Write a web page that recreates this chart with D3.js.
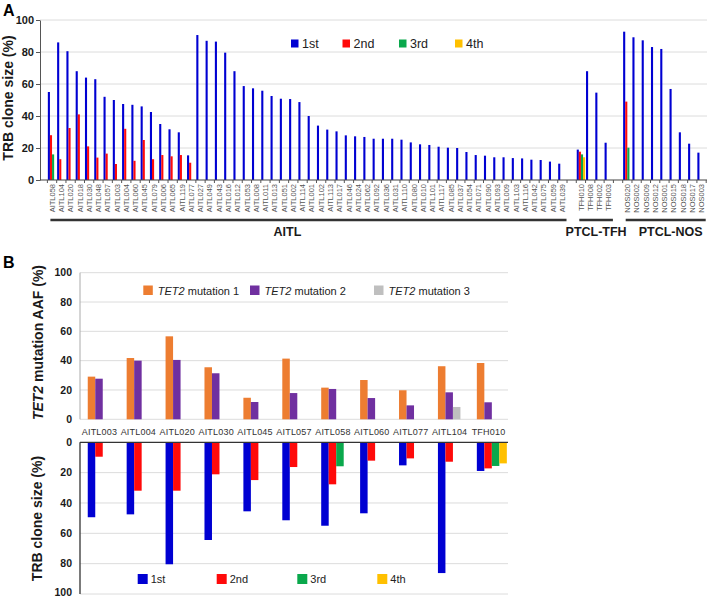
<!DOCTYPE html>
<html><head><meta charset="utf-8">
<script src="https://cdn.jsdelivr.net/npm/d3@7"></script>
<style>body{margin:0;background:#fff} text{font-family:"Liberation Sans",Arial,sans-serif}</style>
</head><body><svg id="c" width="709" height="598"></svg>
<script>
// ---------- Panel A data ----------
const aitlSamples = ["AITL058","AITL104","AITL020","AITL018","AITL030","AITL048","AITL057","AITL003","AITL004","AITL060","AITL045","AITL079","AITL006","AITL065","AITL119","AITL077","AITL027","AITL049","AITL043","AITL016","AITL012","AITL053","AITL008","AITL011","AITL013","AITL051","AITL002","AITL114","AITL001","AITL102","AITL113","AITL017","AITL046","AITL024","AITL062","AITL092","AITL036","AITL031","AITL110","AITL080","AITL010","AITL101","AITL117","AITL085","AITL037","AITL054","AITL071","AITL090","AITL093","AITL009","AITL103","AITL116","AITL042","AITL075","AITL059","AITL039"];
const tfhSamples = ["TFH010","TFH008","TFH002","TFH003"];
const nosSamples = ["NOS020","NOS002","NOS009","NOS012","NOS001","NOS015","NOS018","NOS017","NOS003"];
const groupNames = ["AITL","PTCL-TFH","PTCL-NOS"];

const cloneFirstA = [55,86,80.5,68,64,63,52,50,47.5,47,46,42.5,35,31.7,29.8,15.4,90.6,87,86.5,79.6,68,58.7,57.3,55.8,52.5,50.8,50.6,48.7,40,34,31.5,30.4,27.9,27.3,26.9,25.8,25.8,25.8,25.2,23.5,22.3,21.9,20.8,20.2,20,17.5,15.6,15.2,14.2,14.2,13.7,13.5,12.7,12.5,11.5,10.2,
  19,68,54.6,23.3,
  92.7,89.2,87.3,83.1,81.9,56.9,29.8,22.7,17.1];
const cloneSecondA = [28,13,32.5,41,21,14,16.5,10,32,12,25,13,15.6,14.8,15.6,10.8,null,null,null,null,null,null,null,null,null,null,null,null,null,null,null,null,null,null,null,null,null,null,null,null,null,null,null,null,null,null,null,null,null,null,null,null,null,null,null,null,
  17.7,null,null,null,
  49,null,null,null,null,null,null,null,null];
const cloneThirdA = [16,null,null,null,null,null,null,null,null,null,null,null,null,null,null,null,null,null,null,null,null,null,null,null,null,null,null,null,null,null,null,null,null,null,null,null,null,null,null,null,null,null,null,null,null,null,null,null,null,null,null,null,null,null,null,null,
  16,null,null,null,
  20.2,null,null,null,null,null,null,null,null];
const cloneFourthA = [null,null,null,null,null,null,null,null,null,null,null,null,null,null,null,null,null,null,null,null,null,null,null,null,null,null,null,null,null,null,null,null,null,null,null,null,null,null,null,null,null,null,null,null,null,null,null,null,null,null,null,null,null,null,null,null,
  14.2,null,null,null,
  null,null,null,null,null,null,null,null,null];

const yTicks = [0,20,40,60,80,100];
const cloneLabels = ["1st","2nd","3rd","4th"];
const cloneColors = ["#0000d2","#ff0a0a","#0aa84c","#ffc000"];

// ---------- Panel B data ----------
const samplesB = ["AITL003","AITL004","AITL020","AITL030","AITL045","AITL057","AITL058","AITL060","AITL077","AITL104","TFH010"];
const tet2Mut1 = [29.1,41.8,56.6,35.5,14.7,41.4,21.6,26.8,19.8,36.2,38.4];
const tet2Mut2 = [27.7,40,40.5,31.4,11.8,17.9,20.7,14.5,9.5,18.4,11.6];
const tet2Mut3 = [null,null,null,null,null,null,null,null,null,8.4,null];
const clone1B = [49.4,47.5,80.4,64.4,45.5,51.4,55,46.8,15.2,86.2,18.9];
const clone2B = [9.5,31.9,31.9,21.1,24.9,16.3,27.7,12.1,10.6,12.8,17.2];
const clone3B = [null,null,null,null,null,null,15.8,null,null,null,15.6];
const clone4B = [null,null,null,null,null,null,null,null,null,null,13.9];
const tet2Labels = ["mutation 1","mutation 2","mutation 3"];
const tet2Colors = ["#ed7d31","#7030a0","#bfbfbf"];

const svg = d3.select("#c");
const FONT = '"Liberation Sans",Arial,sans-serif';
const grid = "#dcdcdc";

// ================= PANEL A =================
const samplesA = aitlSamples.concat(tfhSamples, nosSamples);
const slotsA = aitlSamples.concat(["_g1"], tfhSamples, ["_g2"], nosSamples);
const xA = d3.scaleBand().domain(slotsA).range([47.4, 706.2]);
const yA = d3.scaleLinear().domain([0,100]).range([180,20]);
const subA = d3.scaleBand().domain([0,1,2,3]).range([0,8.4]);
const gA = svg.append("g");

gA.selectAll(".gridA").data(yTicks.slice(1)).join("line")
  .attr("x1",40).attr("x2",707).attr("y1",d=>yA(d)).attr("y2",d=>yA(d))
  .attr("stroke",grid).attr("stroke-width",1);

const seriesA = [cloneFirstA, cloneSecondA, cloneThirdA, cloneFourthA];
seriesA.forEach((arr,si)=>{
  const data = samplesA.map((s,i)=>({s, v:arr[i]})).filter(d=>d.v!=null);
  gA.append("g").selectAll("rect").data(data).join("rect")
    .attr("x",d=>xA(d.s)+(xA.bandwidth()-8.4)/2+subA(si))
    .attr("width",subA.bandwidth())
    .attr("y",d=>yA(d.v)).attr("height",d=>yA(0)-yA(d.v))
    .attr("fill",cloneColors[si]);
});

// y axis A
const axA = gA.append("g").attr("transform","translate(40,0)")
  .call(d3.axisLeft(yA).tickValues(yTicks).tickSize(4).tickSizeOuter(0).tickPadding(2));
axA.select(".domain").attr("stroke","#555");
axA.selectAll(".tick line").attr("stroke","#555");
axA.selectAll("text").attr("font-family",FONT).attr("font-size",11).attr("font-weight","bold").attr("fill","#1a1a1a");

// x axis A
gA.append("line").attr("x1",40).attr("x2",707).attr("y1",yA(0)).attr("y2",yA(0)).attr("stroke","#444").attr("stroke-width",1.2);
gA.selectAll(".xtA").data(slotsA.concat(["_end"])).join("line")
  .attr("x1",d=>d==="_end"?xA.range()[1]:xA(d)).attr("x2",d=>d==="_end"?xA.range()[1]:xA(d))
  .attr("y1",yA(0)).attr("y2",yA(0)+3).attr("stroke","#555");
gA.selectAll(".xlA").data(samplesA).join("text")
  .attr("transform",d=>`translate(${xA(d)+xA.bandwidth()/2},184) rotate(-90)`)
  .attr("text-anchor","end").attr("dy","0.35em")
  .attr("font-size",7.5).attr("fill","#555").text(d=>d);

// group lines
const groupsA = [aitlSamples, tfhSamples, nosSamples];
const grpOffset = [-21, 0, 5];
groupsA.forEach((g,gi)=>{
  const x1 = xA(g[0])+3, x2 = xA(g[g.length-1])+xA.bandwidth()-0.5;
  gA.append("line").attr("x1",x1).attr("x2",x2).attr("y1",220).attr("y2",220)
    .attr("stroke","#333").attr("stroke-width",2.5);
  gA.append("text").attr("x",(x1+x2)/2+grpOffset[gi]).attr("y",236)
    .attr("text-anchor","middle").attr("font-size",12.5).attr("font-weight","bold").attr("fill","#1a1a1a")
    .text(groupNames[gi]);
});

// legend A
const legAx = [291,342.5,399,455];
cloneLabels.forEach((l,i)=>{
  gA.append("rect").attr("x",legAx[i]).attr("y",39.5).attr("width",7.5).attr("height",8).attr("fill",cloneColors[i]);
  gA.append("text").attr("x",legAx[i]+11).attr("y",48).attr("font-size",12.5).attr("fill","#222").text(l);
});

gA.append("text").attr("transform","translate(13,98) rotate(-90)").attr("text-anchor","middle")
  .attr("font-size",14).attr("font-weight","bold").attr("fill","#1a1a1a").text("TRB clone size (%)");
svg.append("text").attr("x",3).attr("y",16).attr("font-size",16).attr("font-weight","bold").text("A");
svg.append("text").attr("x",3).attr("y",268).attr("font-size",16).attr("font-weight","bold").text("B");

// ================= PANEL B top =================
const xB = d3.scaleBand().domain(samplesB).range([80,508]);
const yBt = d3.scaleLinear().domain([0,100]).range([419.3,272.7]);
const yBb = d3.scaleLinear().domain([0,100]).range([442.3,594]);
const subBw = 7.5, subB0 = 7.75;
const gB = svg.append("g");

gB.selectAll(".gBt").data(yTicks).join("line")
  .attr("x1",80).attr("x2",508).attr("y1",d=>yBt(d)).attr("y2",d=>yBt(d)).attr("stroke",grid);
gB.append("line").attr("x1",80).attr("x2",80).attr("y1",yBt(100)).attr("y2",yBt(0)).attr("stroke","#aaa");
gB.selectAll(".tBt").data(yTicks).join("text")
  .attr("x",72).attr("y",d=>yBt(d)).attr("dy","0.35em").attr("text-anchor","end")
  .attr("font-size",10.5).attr("font-weight","bold").attr("fill","#1a1a1a").text(d=>d);

[tet2Mut1,tet2Mut2,tet2Mut3].forEach((arr,si)=>{
  const data = samplesB.map((s,i)=>({s,v:arr[i]})).filter(d=>d.v!=null);
  gB.append("g").selectAll("rect").data(data).join("rect")
    .attr("x",d=>xB(d.s)+subB0+si*subBw).attr("width",subBw)
    .attr("y",d=>yBt(d.v)).attr("height",d=>yBt(0)-yBt(d.v)).attr("fill",tet2Colors[si]);
});

gB.selectAll(".xlB").data(samplesB).join("text")
  .attr("x",d=>xB(d)+xB.bandwidth()/2).attr("y",434.5).attr("text-anchor","middle")
  .attr("font-size",9).attr("letter-spacing",0.2).attr("fill","#333").text(d=>d);

// legend B top
const legBx = [143.3,250,374];
tet2Labels.forEach((l,i)=>{
  gB.append("rect").attr("x",legBx[i]).attr("y",285.5).attr("width",9.5).attr("height",9.5).attr("fill",tet2Colors[i]);
  const t = gB.append("text").attr("x",legBx[i]+14.5).attr("y",294.5).attr("font-size",11).attr("fill","#222");
  t.append("tspan").attr("font-style","italic").text("TET2");
  t.append("tspan").text(" "+l);
});

const tB = gB.append("text").attr("transform","translate(43,342.5) rotate(-90)").attr("text-anchor","middle")
  .attr("font-size",14).attr("font-weight","bold").attr("fill","#1a1a1a");
tB.append("tspan").attr("font-style","italic").text("TET2");
tB.append("tspan").text(" mutation AAF (%)");

// ================= PANEL B bottom =================
gB.selectAll(".gBb").data(yTicks.slice(1)).join("line")
  .attr("x1",80).attr("x2",508).attr("y1",d=>yBb(d)).attr("y2",d=>yBb(d)).attr("stroke",grid);
gB.selectAll(".tBb").data(yTicks).join("text")
  .attr("x",72).attr("y",d=>Math.min(yBb(d)+3.7,595.5)).attr("text-anchor","end")
  .attr("font-size",10.5).attr("font-weight","bold").attr("fill","#1a1a1a").text(d=>d);

[clone1B,clone2B,clone3B,clone4B].forEach((arr,si)=>{
  const data = samplesB.map((s,i)=>({s,v:arr[i]})).filter(d=>d.v!=null);
  gB.append("g").selectAll("rect").data(data).join("rect")
    .attr("x",d=>xB(d.s)+subB0+si*subBw).attr("width",subBw)
    .attr("y",yBb(0)).attr("height",d=>yBb(d.v)-yBb(0)).attr("fill",cloneColors[si]);
});
gB.append("line").attr("x1",80).attr("x2",508).attr("y1",yBb(0)).attr("y2",yBb(0)).attr("stroke","#333").attr("stroke-width",1.3);
gB.append("line").attr("x1",80).attr("x2",80).attr("y1",yBb(0)).attr("y2",yBb(100)).attr("stroke","#333").attr("stroke-width",1.3);

const legBbx = [137.7,216.7,297.3,377.3];
cloneLabels.forEach((l,i)=>{
  gB.append("rect").attr("x",legBbx[i]).attr("y",574).attr("width",10).attr("height",10).attr("fill",cloneColors[i]);
  gB.append("text").attr("x",legBbx[i]+13).attr("y",583).attr("font-size",11).attr("fill","#222").text(l);
});

gB.append("text").attr("transform","translate(42,518.5) rotate(-90)").attr("text-anchor","middle")
  .attr("font-size",14).attr("font-weight","bold").attr("fill","#1a1a1a").text("TRB clone size (%)");
</script></body></html>
